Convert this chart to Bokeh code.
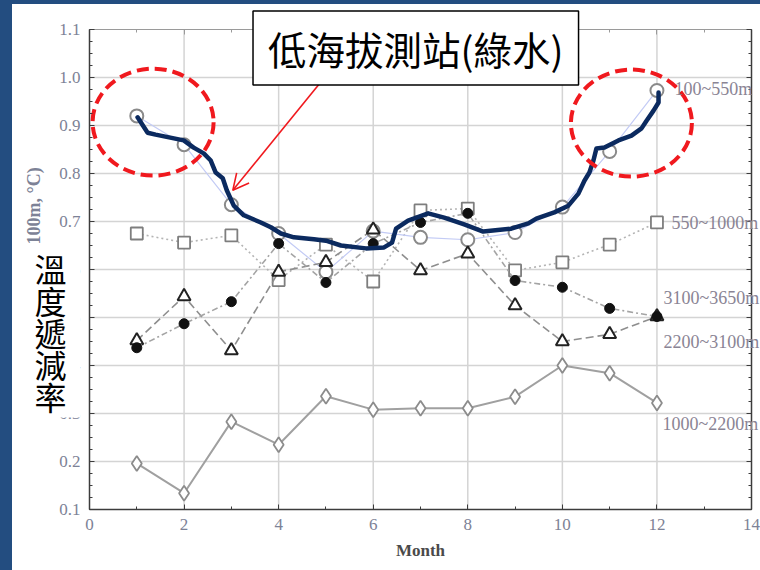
import math

from bokeh.embed import file_html
from bokeh.layouts import column, row
from bokeh.models import (Arrow, BoxAnnotation, Div, FixedTicker, Label, LinearAxis,
                          OpenHead, PrintfTickFormatter, Range1d)
from bokeh.plotting import figure
from bokeh.resources import INLINE

# ---- monthly lapse rates (degC per 100 m) by elevation band ----
months = [1, 2, 3, 4, 5, 6, 7, 8, 9, 10, 11, 12]
band_100_550 = [0.92, 0.86, 0.735, 0.675, 0.595, 0.68, 0.667, 0.662, 0.677, 0.73, 0.846, 0.973]
band_550_1000 = [0.675, 0.656, 0.671, 0.578, 0.652, 0.575, 0.723, 0.727, 0.598, 0.615, 0.652, 0.698]
band_3100_3650 = [0.437, 0.487, 0.533, 0.654, 0.573, 0.654, 0.698, 0.717, 0.577, 0.563, 0.519, 0.502]
band_2200_3100 = [0.452, 0.544, 0.431, 0.595, 0.615, 0.683, 0.598, 0.633, 0.525, 0.45, 0.465, 0.502]
band_1000_2200 = [0.196, 0.134, 0.283, 0.235, 0.336, 0.308, 0.311, 0.311, 0.335, 0.40, 0.384, 0.322]

band_names = ["100~550m", "550~1000m", "3100~3650m", "2200~3100m", "1000~2200m"]

x_ticks = [0, 2, 4, 6, 8, 10, 12, 14]
y_ticks = [0.1, 0.2, 0.3, 0.4, 0.5, 0.6, 0.7, 0.8, 0.9, 1.0, 1.1]
x_minor = list(range(0, 15))
y_minor = [round(0.1 + 0.025 * k, 3) for k in range(41)]

# hand-drawn trend sketch over the low-elevation station (month, rate)
sketch_m = [1.017, 1.229, 1.398, 1.992, 2.203, 2.415, 2.564, 2.669, 2.818, 2.903,
            3.051, 3.263, 3.623, 3.835, 4.047, 4.322, 4.746, 5.0, 5.318, 5.847,
            6.229, 6.398, 6.483, 6.737, 7.161, 7.5, 7.924, 8.326, 8.919, 9.28,
            9.449, 9.83, 10.127, 10.339, 10.466, 10.572, 10.657, 10.72, 10.89,
            11.186, 11.462, 11.674, 11.78, 11.928, 12.034, 12.034]
sketch_v = [0.917, 0.885, 0.881, 0.869, 0.854, 0.842, 0.827, 0.802, 0.790, 0.765,
            0.733, 0.713, 0.698, 0.688, 0.675, 0.667, 0.663, 0.660, 0.650, 0.644,
            0.646, 0.656, 0.685, 0.702, 0.717, 0.708, 0.694, 0.679, 0.685, 0.696,
            0.706, 0.719, 0.733, 0.758, 0.785, 0.802, 0.827, 0.852, 0.854,
            0.869, 0.879, 0.894, 0.910, 0.931, 0.948, 0.969]

NAVY = "#234d80"
SERIF = "Liberation Serif"
CJK = "Noto Sans CJK TC"
TICK_COLOR = "#7d8296"
LABEL_COLOR = "#8a8494"

X0, X1 = 0, 14
Y0, Y1 = 0.1, 1.1

# the frame fills the whole canvas; the axes sit at fixed data locations so
# that the annotations around the plot box are not clipped
p = figure(width=748, height=566,
           x_range=Range1d(-1.6284, 14.190), y_range=Range1d(-0.02708, 1.15208),
           x_axis_type=None, y_axis_type=None,
           output_backend="svg", toolbar_location=None,
           min_border=0, min_border_left=0, min_border_right=0,
           min_border_top=0, min_border_bottom=0)
p.outline_line_color = None
p.background_fill_color = "white"
p.border_fill_color = "white"

# grid lines inside the plot box
inner_x = [t for t in x_ticks if X0 < t < X1]
inner_y = [t for t in y_ticks if Y0 < t < Y1]
p.segment(x0=inner_x, y0=[Y0] * len(inner_x), x1=inner_x, y1=[Y1] * len(inner_x),
          line_color="#d4d4d4", line_width=1.5)
p.segment(x0=[X0] * len(inner_y), y0=inner_y, x1=[X1] * len(inner_y), y1=inner_y,
          line_color="#d4d4d4", line_width=1.5)

xticker = FixedTicker(ticks=x_ticks, minor_ticks=x_minor)
yticker = FixedTicker(ticks=y_ticks, minor_ticks=y_minor)


def make_axis(ticker, loc, bounds, color, width, fmt=None):
    ax = LinearAxis(ticker=ticker, fixed_location=loc, bounds=bounds)
    ax.axis_line_color = color
    ax.axis_line_width = width
    ax.major_tick_line_color = color
    ax.minor_tick_line_color = color
    ax.major_tick_in = 5
    ax.major_tick_out = 0
    ax.minor_tick_in = 3
    ax.minor_tick_out = 0
    if fmt is not None:
        ax.formatter = PrintfTickFormatter(format=fmt)
        ax.major_label_text_font = SERIF
        ax.major_label_text_font_size = "17px"
        ax.major_label_text_color = TICK_COLOR
        ax.major_label_standoff = 9
    else:
        ax.major_label_overrides = {t: "" for t in ticker.ticks}
    return ax


bottom = make_axis(xticker, Y0, (X0, X1), "#3c3c3c", 1.5, "%d")
bottom.axis_label = "Month"
bottom.axis_label_text_font = SERIF
bottom.axis_label_text_font_style = "bold"
bottom.axis_label_text_font_size = "17px"
bottom.axis_label_text_color = "#4a4a4a"
bottom.axis_label_standoff = 8
p.add_layout(bottom, "below")

left = make_axis(yticker, X0, (Y0, Y1), "#3c3c3c", 1.5, "%.1f")
p.add_layout(left, "left")

p.add_layout(make_axis(xticker, Y1, (X0, X1), "#9a9a9a", 1), "above")
p.add_layout(make_axis(yticker, X1, (Y0, Y1), "#3c3c3c", 1.5), "right")

# ---- series ----
p.line(months, band_1000_2200, line_color="#a0a0a0", line_width=2)
p.scatter(months, band_1000_2200, marker="diamond", size=15, fill_color="white",
          line_color="#8c8c8c", line_width=1.8)

p.line(months, band_550_1000, line_color="#b4b4b4", line_width=1.6, line_dash="2 3")
p.scatter(months, band_550_1000, marker="square", size=12, fill_color="white",
          line_color="#7e7e7e", line_width=1.8)

p.line(months, band_100_550, line_color="#c3cbf5", line_width=1.2)
p.scatter(months, band_100_550, marker="circle", size=13, fill_color="white",
          line_color="#8a8a8a", line_width=2)

p.line(months, band_2200_3100, line_color="#8e8e8e", line_width=1.6, line_dash="8 4")
p.scatter(months, band_2200_3100, marker="triangle", size=13, fill_color="white",
          line_color="#222222", line_width=2)

p.line(months, band_3100_3650, line_color="#a4a4a4", line_width=1.6, line_dash="6 3 2 3")
p.scatter(months, band_3100_3650, marker="circle", size=10, fill_color="#111111",
          line_color="#111111")

# end-of-line band labels
end_x = [12.37, 12.31, 12.14, 12.14, 12.12]
end_y = [0.975, 0.696, 0.540, 0.448, 0.279]
for name, ex, ey in zip(band_names, end_x, end_y):
    p.add_layout(Label(x=ex, y=ey, text=name, text_font=SERIF, text_font_size="18px",
                       text_color=LABEL_COLOR, text_align="left", text_baseline="middle"))

# ---- hand-drawn emphasis ----
p.line(sketch_m, sketch_v, line_color="#0b2a5f", line_width=4.5,
       line_join="round", line_cap="round")

p.ellipse(x=[1.345, 11.46], y=[0.907, 0.905], width=121, height=107,
          width_units="screen", height_units="screen",
          fill_alpha=0, line_color="#f0191e", line_width=4, line_dash="12 6")

p.add_layout(Arrow(end=OpenHead(size=16, line_color="#f0191e", line_width=1.6),
                   x_start=4.936, y_start=0.996, x_end=3.03, y_end=0.765,
                   line_color="#f0191e", line_width=1.6))

p.add_layout(Label(x=6.90, y=1.0615, text="低海拔測站(綠水)",
                   text_font=CJK, text_font_size="38.5px",
                   text_color="black", text_align="center", text_baseline="middle",
                   background_fill_color="white", border_line_color="black",
                   border_line_width=1.5, padding=(15, 15, 9, 9)))

# rotated unit label, partly covered by the Chinese axis title
p.add_layout(Label(x=-1.17, y=0.652, text="100m, °C)", angle=math.pi / 2,
                   text_font=SERIF, text_font_size="18px", text_color=TICK_COLOR,
                   text_font_style="bold", text_align="left", text_baseline="middle"))

p.add_layout(BoxAnnotation(left=-1.248, right=-0.19, top=0.644, bottom=0.2917,
                           fill_color="white", fill_alpha=1, line_color=None))

title_chars = ["溫", "度", "遞", "減", "率"]
for i, ch in enumerate(title_chars):
    p.add_layout(Label(x=-0.825, y=0.604 - i * 32 / 480, text=ch,
                       text_font=CJK, text_font_size="32px",
                       text_color="black", text_align="center", text_baseline="middle"))

top_strip = Div(width=760, height=4, margin=0, styles={"background-color": NAVY})
left_strip = Div(width=12, height=566, margin=0, styles={"background-color": NAVY})
layout = column(top_strip, row(left_strip, p, spacing=0), spacing=0)

open("out.html", "w").write(file_html(layout, INLINE))
